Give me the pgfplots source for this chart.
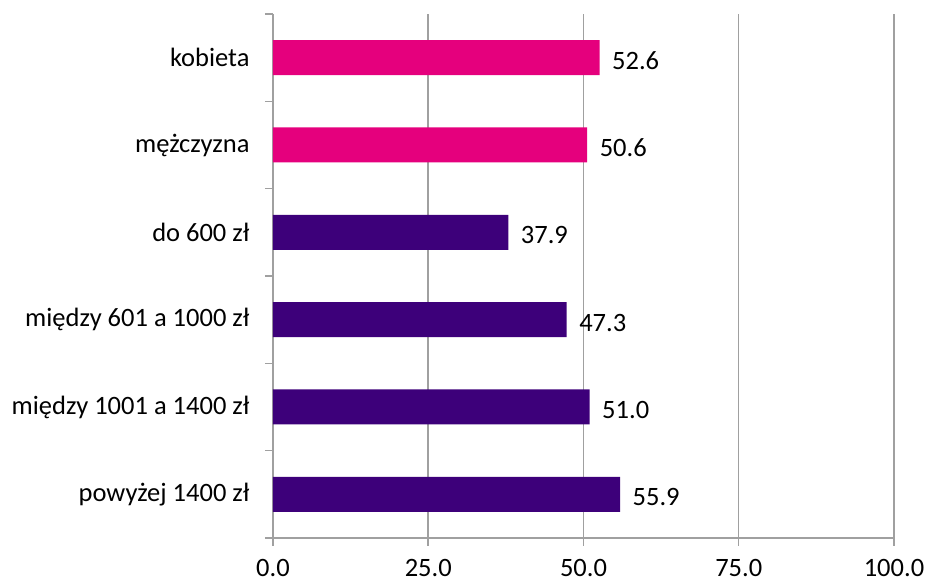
\documentclass[border=0pt]{standalone}
\usepackage{fontspec}
\setmainfont{Carlito}
\usepackage{pgfplots}
\pgfplotsset{compat=1.18}
\definecolor{barpink}{RGB}{229,0,125}
\definecolor{barpurple}{RGB}{61,0,122}
\definecolor{axgray}{RGB}{160,160,160}
\begin{document}
\begin{tikzpicture}[font=\fontsize{26.5}{31}\selectfont]
  \begin{axis}[
    scale only axis,
    width=621pt, height=524pt,
    xbar, bar width=35pt, bar shift=0pt,
    xmin=0, xmax=100,
    ymin=-0.5, ymax=5.5,
    xtick={0,25,50,75,100},
    ytick={0,1,2,3,4,5},
    yticklabels={powyżej 1400 zł,między 1001 a 1400 zł,między 601 a 1000 zł,do 600 zł,mężczyzna,kobieta},
    minor ytick={-0.5,0.5,1.5,2.5,3.5,4.5,5.5},
    axis x line*=bottom, axis y line*=left,
    axis line style={axgray, line width=1.5pt},
    tick align=outside,
    major tick length=8pt, minor tick length=8pt,
    ytick style={draw=none},
    minor y tick style={axgray, line width=1.5pt, draw=axgray},
    xtick style={axgray, line width=1.5pt},
    xmajorgrids,
    grid style={axgray, line width=1.5pt},
    /pgf/number format/.cd, fixed, zerofill, precision=1, assume math mode=true,
    /pgfplots/.cd,
    xticklabel style={yshift=-12pt, inner sep=1pt},
    yticklabel style={xshift=-12pt},
    nodes near coords,
    nodes near coords style={anchor=west, xshift=9pt, yshift=-3pt, text=black},
  ]
    \addplot[fill=barpink, draw=none] coordinates {(50.6,4) (52.6,5)};
    \addplot[fill=barpurple, draw=none] coordinates {(55.9,0) (51.0,1) (47.3,2) (37.9,3)};
  \end{axis}
  \pgfresetboundingbox
  \path (current axis.south west) ++(-273pt,-45pt) coordinate (bl);
  \path[use as bounding box] (bl) rectangle ++(927pt,583pt);
\end{tikzpicture}
\end{document}
